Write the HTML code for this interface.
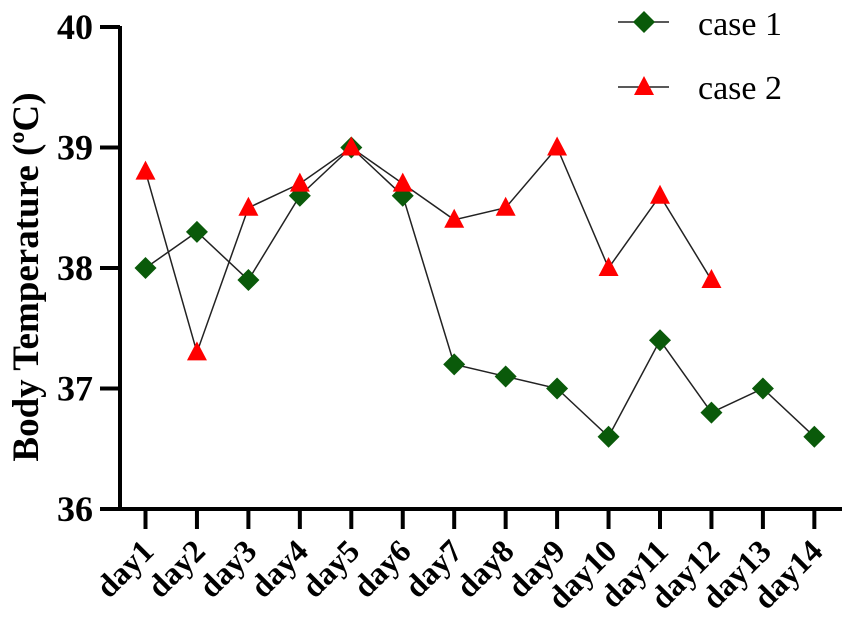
<!DOCTYPE html>
<html><head><meta charset="utf-8"><style>
html,body{margin:0;padding:0;background:#fff;}
svg{display:block;font-family:"Liberation Serif",serif;}
</style></head><body>
<svg id="chart" width="851" height="624"></svg>
<script>
const categories=["day1","day2","day3","day4","day5","day6","day7","day8","day9","day10","day11","day12","day13","day14"];
const case1=[38.0,38.3,37.9,38.6,39.0,38.6,37.2,37.1,37.0,36.6,37.4,36.8,37.0,36.6];
const case2=[38.8,37.3,38.5,38.7,39.0,38.7,38.4,38.5,39.0,38.0,38.6,37.9];
const yTicks=[36,37,38,39,40];
const NS="http://www.w3.org/2000/svg";
const svg=document.getElementById('chart');
function el(t,a,p){const e=document.createElementNS(NS,t);for(const k in a)e.setAttribute(k,a[k]);(p||svg).appendChild(e);return e;}
const x=i=>145.5+i*51.45;
const y=v=>509-(v-36)*120.5;
const ya=el('line',{x1:120,y1:26,x2:120,y2:511,stroke:'#000','stroke-width':4});

const xa=el('line',{x1:118,y1:509,x2:842,y2:509,stroke:'#000','stroke-width':4});

yTicks.forEach(v=>{
  const t=el('line',{x1:100,y1:y(v),x2:120,y2:y(v),stroke:'#000','stroke-width':4});
  
  const l=el('text',{x:93,y:y(v)+12,'text-anchor':'end','font-size':36,'font-weight':'bold'});
  l.textContent=v;
  
});
categories.forEach((c,i)=>{
  const t=el('line',{x1:x(i),y1:509,x2:x(i),y2:529,stroke:'#000','stroke-width':4});
  
  const l=el('text',{x:x(i)+10,y:553,'text-anchor':'end','font-size':32,'font-weight':'bold',transform:`rotate(-45 ${x(i)+10} 553)`});
  l.textContent=c;
  
});
const yt=el('text',{x:0,y:0,'text-anchor':'middle','font-size':37,'font-weight':'bold',transform:'translate(38 277) rotate(-90)'});
yt.textContent='Body Temperature (ºC)';

function series(vals,name){
  const p=el('polyline',{points:vals.map((v,i)=>x(i)+','+y(v)).join(' '),fill:'none',stroke:'#222','stroke-width':1.5});
  
}
function diamond(cx,cy,name){const m=el('polygon',{points:`${cx},${cy-11} ${cx+11},${cy} ${cx},${cy+11} ${cx-11},${cy}`,fill:'#0a5a0a'});}
function tri(cx,cy,name){const m=el('polygon',{points:`${cx},${cy-11} ${cx+10},${cy+8} ${cx-10},${cy+8}`,fill:'#ff0000'});}
series(case1,'case1');series(case2,'case2');
case1.forEach((v,i)=>diamond(x(i),y(v),'case1-point'));
case2.forEach((v,i)=>tri(x(i),y(v),'case2-point'));
const l1=el('line',{x1:618,y1:22,x2:669,y2:22,stroke:'#222','stroke-width':1.5});

diamond(644,22,'legend-marker-case1');
const t1=el('text',{x:698,y:35,'font-size':34});t1.textContent='case 1';

const l2=el('line',{x1:618,y1:87,x2:669,y2:87,stroke:'#222','stroke-width':1.5});

tri(644,87,'legend-marker-case2');
const t2=el('text',{x:698,y:99,'font-size':34});t2.textContent='case 2';

</script>
</body></html>
